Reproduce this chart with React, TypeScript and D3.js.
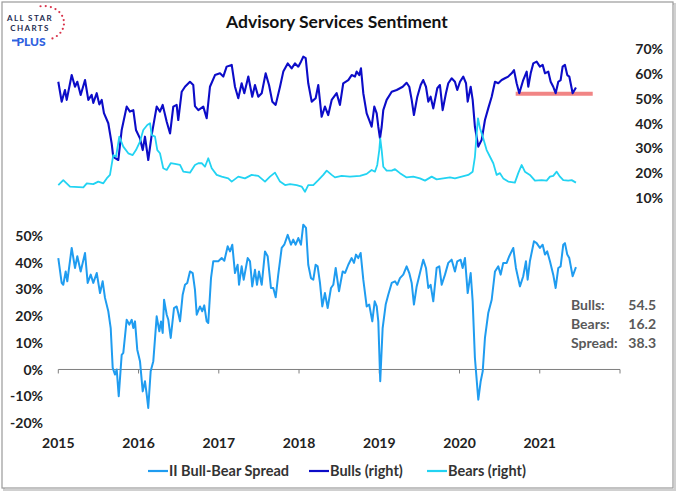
import React from "react";
import * as d3 from "d3";

// ---------- data (decimal years, percent) ----------
const bullsT = [2015.000,2015.042,2015.083,2015.105,2015.167,2015.208,2015.237,2015.279,2015.333,2015.374,2015.416,2015.436,2015.479,2015.511,2015.541,2015.569,2015.623,2015.665,2015.685,2015.748,2015.790,2015.852,2015.893,2015.935,2015.968,2016.018,2016.052,2016.080,2016.121,2016.164,2016.226,2016.267,2016.301,2016.351,2016.393,2016.433,2016.475,2016.495,2016.538,2016.579,2016.641,2016.682,2016.703,2016.745,2016.807,2016.849,2016.890,2016.953,2017.015,2017.056,2017.098,2017.161,2017.202,2017.243,2017.285,2017.318,2017.368,2017.417,2017.451,2017.492,2017.535,2017.584,2017.626,2017.667,2017.709,2017.763,2017.804,2017.859,2017.908,2017.950,2017.991,2018.024,2018.053,2018.083,2018.115,2018.158,2018.207,2018.240,2018.282,2018.323,2018.364,2018.407,2018.469,2018.510,2018.551,2018.614,2018.656,2018.697,2018.718,2018.751,2018.772,2018.801,2018.843,2018.875,2018.905,2018.938,2018.968,2018.988,2019.009,2019.030,2019.050,2019.092,2019.155,2019.217,2019.258,2019.292,2019.341,2019.374,2019.404,2019.432,2019.474,2019.516,2019.548,2019.582,2019.611,2019.640,2019.673,2019.723,2019.756,2019.790,2019.831,2019.860,2019.902,2019.943,2019.972,2020.006,2020.047,2020.081,2020.102,2020.139,2020.164,2020.192,2020.234,2020.276,2020.317,2020.358,2020.401,2020.442,2020.483,2020.525,2020.566,2020.607,2020.650,2020.679,2020.712,2020.745,2020.794,2020.837,2020.857,2020.887,2020.919,2020.961,2021.002,2021.036,2021.065,2021.106,2021.136,2021.168,2021.198,2021.231,2021.260,2021.285,2021.314,2021.343,2021.368,2021.410,2021.451];
const bullsV = [56.8,48.8,53.5,49.5,59.5,54.8,56.8,51.5,57.5,49.5,51.5,48.3,52.2,47.7,49.5,44.2,40.1,32.0,26.6,25.3,37.4,46.8,44.8,45.4,37.4,34.0,29.3,34.7,25.3,35.4,46.8,44.8,47.5,40.7,36.0,46.8,47.5,41.4,52.8,54.8,56.8,55.5,47.0,45.4,46.8,42.1,54.8,59.5,60.2,58.9,62.9,63.6,54.8,50.2,56.2,52.2,58.9,50.8,55.5,50.8,52.2,60.2,55.5,48.8,47.5,54.8,60.9,64.2,62.2,64.2,62.9,64.9,66.9,66.3,56.2,48.8,50.2,55.5,42.7,46.8,43.4,49.5,52.2,47.5,56.2,57.5,59.5,58.9,60.9,59.5,62.2,52.2,44.1,41.4,38.7,46.8,44.1,38.7,34.0,38.7,45.4,49.5,52.8,53.5,54.2,54.8,56.4,54.8,49.5,43.4,50.8,55.5,57.5,54.8,48.8,50.8,46.1,54.2,55.5,45.4,52.2,56.2,58.2,56.8,53.5,56.8,58.9,56.2,48.8,54.8,49.5,38.7,30.7,33.4,41.4,46.1,50.8,56.8,56.2,57.5,58.2,58.9,60.2,61.5,56.2,52.2,57.5,60.9,54.8,60.2,64.2,64.9,62.9,63.6,60.2,60.9,56.8,54.8,52.2,56.8,57.5,62.9,63.6,59.5,58.9,52.2,54.5];

const bearsT = [2015.000,2015.062,2015.146,2015.312,2015.355,2015.436,2015.498,2015.561,2015.603,2015.644,2015.685,2015.719,2015.760,2015.810,2015.872,2015.927,2015.968,2016.018,2016.059,2016.109,2016.143,2016.164,2016.205,2016.234,2016.267,2016.308,2016.351,2016.401,2016.454,2016.517,2016.558,2016.641,2016.703,2016.745,2016.787,2016.828,2016.869,2016.912,2016.974,2017.036,2017.118,2017.161,2017.243,2017.326,2017.410,2017.492,2017.576,2017.638,2017.700,2017.763,2017.826,2017.888,2017.971,2018.033,2018.074,2018.115,2018.178,2018.240,2018.302,2018.345,2018.407,2018.448,2018.531,2018.635,2018.760,2018.843,2018.905,2018.946,2018.975,2019.000,2019.012,2019.030,2019.050,2019.092,2019.155,2019.196,2019.258,2019.341,2019.424,2019.507,2019.570,2019.653,2019.715,2019.798,2019.881,2019.943,2020.027,2020.109,2020.164,2020.192,2020.214,2020.230,2020.255,2020.296,2020.338,2020.380,2020.421,2020.463,2020.504,2020.545,2020.607,2020.690,2020.732,2020.774,2020.815,2020.877,2020.940,2021.023,2021.086,2021.127,2021.168,2021.211,2021.252,2021.293,2021.355,2021.398,2021.451];
const bearsV = [15.2,17.2,14.6,14.3,15.9,15.6,16.6,15.9,17.9,19.3,27.3,26.6,34.7,30.7,28.0,27.3,29.3,32.7,37.4,39.4,40.1,35.4,34.7,29.3,28.0,22.0,21.3,24.0,23.7,23.3,20.6,20.2,23.3,24.0,24.0,22.6,26.0,22.0,19.3,18.6,17.9,16.6,18.6,17.9,19.3,18.9,16.6,18.6,20.2,16.6,15.2,15.6,15.2,14.6,12.5,15.2,15.2,17.2,19.3,21.0,19.3,18.3,18.9,18.6,18.9,19.7,21.3,20.6,23.3,29.3,34.0,29.3,22.6,21.0,21.0,21.6,20.0,18.3,18.6,17.9,17.0,18.6,17.5,17.9,18.3,17.9,18.6,19.3,20.6,26.6,36.0,42.1,38.1,34.0,29.3,26.6,24.0,19.3,20.0,17.9,16.6,16.2,20.0,23.3,20.6,19.3,17.0,17.2,17.0,18.6,18.9,20.6,18.6,17.2,17.0,17.2,16.2];

const spreadT = [2015.000,2015.042,2015.062,2015.092,2015.112,2015.167,2015.208,2015.237,2015.279,2015.333,2015.366,2015.404,2015.436,2015.479,2015.520,2015.553,2015.582,2015.623,2015.653,2015.678,2015.707,2015.728,2015.753,2015.790,2015.810,2015.852,2015.885,2015.915,2015.935,2015.956,2015.984,2016.018,2016.052,2016.080,2016.102,2016.121,2016.151,2016.184,2016.226,2016.259,2016.280,2016.301,2016.318,2016.351,2016.371,2016.401,2016.442,2016.475,2016.495,2016.517,2016.550,2016.579,2016.607,2016.641,2016.675,2016.703,2016.725,2016.766,2016.794,2016.819,2016.849,2016.869,2016.903,2016.931,2016.994,2017.036,2017.069,2017.111,2017.140,2017.168,2017.202,2017.235,2017.252,2017.285,2017.310,2017.360,2017.389,2017.417,2017.451,2017.476,2017.501,2017.535,2017.576,2017.609,2017.650,2017.679,2017.709,2017.741,2017.784,2017.816,2017.859,2017.900,2017.928,2017.958,2017.991,2018.024,2018.053,2018.087,2018.115,2018.149,2018.178,2018.207,2018.232,2018.261,2018.290,2018.323,2018.357,2018.398,2018.427,2018.457,2018.498,2018.544,2018.573,2018.614,2018.656,2018.685,2018.710,2018.738,2018.768,2018.801,2018.843,2018.875,2018.913,2018.943,2018.968,2018.988,2019.012,2019.042,2019.080,2019.112,2019.155,2019.196,2019.224,2019.258,2019.299,2019.341,2019.374,2019.404,2019.432,2019.466,2019.507,2019.548,2019.582,2019.611,2019.640,2019.673,2019.715,2019.748,2019.778,2019.819,2019.860,2019.902,2019.943,2019.972,2020.014,2020.039,2020.068,2020.102,2020.139,2020.164,2020.192,2020.234,2020.264,2020.289,2020.317,2020.358,2020.401,2020.442,2020.483,2020.513,2020.545,2020.588,2020.620,2020.670,2020.703,2020.753,2020.794,2020.828,2020.849,2020.877,2020.928,2020.961,2021.002,2021.036,2021.065,2021.093,2021.127,2021.168,2021.198,2021.231,2021.260,2021.293,2021.314,2021.343,2021.368,2021.410,2021.451];
const spreadV = [41.7,32.4,31.7,36.7,33.0,45.5,38.0,42.4,36.7,43.6,32.4,35.5,32.4,36.1,28.6,33.0,26.8,21.8,15.5,0.6,-1.9,0.0,-10.0,5.5,6.2,18.6,16.8,18.6,15.5,18.0,7.4,3.1,-8.2,-4.4,-9.4,-14.4,-0.7,3.1,19.9,14.3,18.0,13.7,26.1,20.5,18.6,11.8,23.0,23.6,21.1,18.0,28.0,31.7,32.4,36.7,36.1,29.9,20.5,23.6,21.8,24.0,18.0,17.4,34.2,40.5,40.5,41.7,40.7,46.1,44.2,46.7,36.1,39.2,31.7,38.6,33.6,41.7,40.5,31.1,37.3,31.7,36.7,31.7,44.2,42.4,30.5,30.5,27.0,35.5,45.5,46.7,50.4,46.7,48.6,46.7,49.2,46.7,54.2,53.0,39.2,34.2,33.6,39.2,38.6,32.4,23.6,28.6,23.0,30.5,31.7,38.0,29.3,36.7,36.1,39.2,41.7,39.9,43.0,41.7,43.6,33.6,23.6,24.3,18.0,25.5,23.6,18.0,-4.4,15.5,24.3,28.0,32.4,33.0,31.7,34.2,35.5,38.6,36.1,32.4,24.3,31.1,36.1,41.1,38.0,30.5,31.7,25.5,38.0,38.6,31.7,35.5,39.9,41.1,36.7,40.5,41.1,38.0,41.7,28.6,36.1,25.5,4.3,-11.3,-4.4,-0.7,11.8,21.1,26.1,36.7,38.6,35.5,39.9,39.9,42.4,45.5,38.0,31.1,34.9,40.5,33.6,40.5,48.0,47.3,45.5,46.7,43.0,44.2,40.5,35.5,30.5,38.0,38.6,46.7,47.3,43.0,41.7,34.9,38.3];

// support line drawn on the Bulls panel
const supportLevel = 52;
const supportFrom = 2020.70;
const supportTo = 2021.66;

const yearTicks = [2015, 2016, 2017, 2018, 2019, 2020, 2021, 2022];
const yearLabels = ["2015", "2016", "2017", "2018", "2019", "2020", "2021"];
const rightTicks = [10, 20, 30, 40, 50, 60, 70];
const leftTicks = [-20, -10, 0, 10, 20, 30, 40, 50];

const statLabels = ["Bulls:", "Bears:", "Spread:"];
const statValues = ["54.5", "16.2", "38.3"];

const legendNames = ["II Bull-Bear Spread", "Bulls (right)", "Bears (right)"];

const C_SPREAD = "#1f9cf0";
const C_BULLS = "#0c0cc8";
const C_BEARS = "#22d3f2";
const FONT = "Lato, 'Open Sans', sans-serif";

type P = [number, number];
const zipS = (t: number[], v: number[]): P[] =>
  d3.range(Math.min(t.length, v.length)).map((i) => [t[i], v[i]] as P);

export default function App() {
  const x = d3.scaleLinear().domain([2015, 2022]).range([58.3, 620]);
  const yTop = d3.scaleLinear().domain([10, 70]).range([198, 49]);
  const yBot = d3.scaleLinear().domain([-20, 50]).range([422.9, 235.9]);

  const lineTop = d3.line<P>().x((d) => x(d[0])).y((d) => yTop(d[1]));
  const lineBot = d3.line<P>().x((d) => x(d[0])).y((d) => yBot(d[1]));

  const bulls = zipS(bullsT, bullsV);
  const bears = zipS(bearsT, bearsV);
  const spread = zipS(spreadT, spreadV);

  const y0 = yBot(0);

  // logo dots
  const dotAngles = d3.range(-100, 75, 15);

  const legendItems = [
    { name: legendNames[0], color: C_SPREAD, x: 148 },
    { name: legendNames[1], color: C_BULLS, x: 309 },
    { name: legendNames[2], color: C_BEARS, x: 427 },
  ];

  return (
    <svg
      width={680}
      height={496}
      style={{ position: "absolute", left: 0, top: 0, background: "#fff" }}
      fontFamily={FONT}
    >
      <rect x={0} y={0} width={680} height={496} fill="#fff" />
      {/* frame with soft shadow */}
      <rect x={4} y={4} width={671} height={486} fill="none" stroke="#d0d0d0" strokeWidth={2} />
      <rect x={2} y={2} width={671} height={486} fill="#fff" stroke="#9a9a9a" strokeWidth={1.2} />

      {/* logo */}
      <g>
        {dotAngles.map((a, i) => {
          const r = (a * Math.PI) / 180;
          return (
            <circle key={i} cx={44 + 20 * Math.cos(r)} cy={23 + 17 * Math.sin(r)} r={1.1} fill="#d8324a" />
          );
        })}
        <text x={30} y={21} textAnchor="middle" fontSize={8} fontWeight={700} letterSpacing={1.4} fill="#1d2b50">
          ALL STAR
        </text>
        <text x={30} y={30.5} textAnchor="middle" fontSize={8} fontWeight={700} letterSpacing={1.4} fill="#1d2b50">
          CHARTS
        </text>
        <line x1={12} y1={40.5} x2={18} y2={40.5} stroke="#2f62e0" strokeWidth={2} />
        <text x={31} y={46} textAnchor="middle" fontSize={12} fontWeight={900} fill="#2f62e0">
          PLUS
        </text>
      </g>

      {/* title */}
      <text x={337} y={28} textAnchor="middle" fontSize={17.5} fontWeight={700} fill="#111">
        Advisory Services Sentiment
      </text>

      {/* right axis labels (top panel) */}
      {rightTicks.map((t) => (
        <text key={t} x={663} y={yTop(t)} dy="0.36em" textAnchor="end" fontSize={14} fontWeight={700} fill="#222">
          {t}%
        </text>
      ))}

      {/* top panel lines */}
      <line
        x1={x(supportFrom)}
        x2={x(supportTo)}
        y1={yTop(supportLevel)}
        y2={yTop(supportLevel)}
        stroke="#f07878"
        strokeWidth={4}
        opacity={0.9}
      />
      <path d={lineTop(bulls) ?? ""} fill="none" stroke={C_BULLS} strokeWidth={2.1} strokeLinejoin="round" />
      <path d={lineTop(bears) ?? ""} fill="none" stroke={C_BEARS} strokeWidth={1.8} strokeLinejoin="round" />

      {/* left axis labels (bottom panel) */}
      {leftTicks.map((t) => (
        <text key={t} x={43} y={yBot(t)} dy="0.36em" textAnchor="end" fontSize={14} fontWeight={700} fill="#222">
          {t}%
        </text>
      ))}

      {/* zero axis with year ticks */}
      <line x1={x(2015)} x2={x(2022)} y1={y0} y2={y0} stroke="#7f7f7f" strokeWidth={1} />
      {yearTicks.map((yv) => (
        <line key={yv} x1={x(yv)} x2={x(yv)} y1={y0} y2={y0 + 4} stroke="#7f7f7f" strokeWidth={1} />
      ))}
      {yearLabels.map((lbl, i) => (
        <text key={lbl} x={x(yearTicks[i])} y={448} textAnchor="middle" fontSize={14} fontWeight={700} fill="#222">
          {lbl}
        </text>
      ))}

      <path d={lineBot(spread) ?? ""} fill="none" stroke={C_SPREAD} strokeWidth={2} strokeLinejoin="round" />

      {/* stats */}
      {statLabels.map((s, i) => (
        <g key={s}>
          <text x={571} y={310 + i * 19} fontSize={14} fontWeight={700} fill="#595959">
            {s}
          </text>
          <text x={656} y={310 + i * 19} textAnchor="end" fontSize={14} fontWeight={700} fill="#595959">
            {statValues[i]}
          </text>
        </g>
      ))}

      {/* legend */}
      {legendItems.map((it) => (
        <g key={it.name}>
          <line x1={it.x} x2={it.x + 20} y1={471} y2={471} stroke={it.color} strokeWidth={2.2} />
          <text x={it.x + 21} y={476} fontSize={14.5} fontWeight={700} fill="#333">
            {it.name}
          </text>
        </g>
      ))}
    </svg>
  );
}
